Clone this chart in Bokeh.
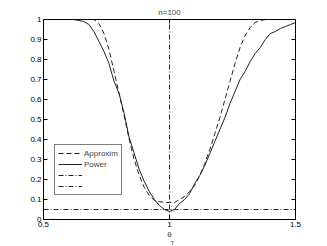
import numpy as np
from bokeh.plotting import figure
from bokeh.models import (LinearAxis, Legend, LegendItem, Title, FixedTicker, Range1d)
from bokeh.embed import file_html
from bokeh.resources import INLINE

title_text = "n=100"
theta = [0.50, 0.52, 0.54, 0.56, 0.58, 0.60, 0.62, 0.64, 0.66, 0.68,
         0.70, 0.72, 0.74, 0.76, 0.78, 0.80, 0.82, 0.84, 0.86, 0.88,
         0.90, 0.92, 0.94, 0.96, 0.98, 1.00, 1.02, 1.04, 1.06, 1.08,
         1.10, 1.12, 1.14, 1.16, 1.18, 1.20, 1.22, 1.24, 1.26, 1.28,
         1.30, 1.32, 1.34, 1.36, 1.38, 1.40, 1.42, 1.44, 1.46, 1.48, 1.50]
power = [1.0, 1.0, 1.0, 1.0, 1.0, 1.0, 1.0, 0.995, 0.99, 0.975,
         0.94, 0.89, 0.84, 0.78, 0.69, 0.63, 0.53, 0.41, 0.33, 0.25,
         0.19, 0.14, 0.10, 0.07, 0.05, 0.04, 0.05, 0.08, 0.10, 0.13,
         0.18, 0.22, 0.27, 0.33, 0.39, 0.45, 0.51, 0.58, 0.64, 0.70,
         0.74, 0.79, 0.83, 0.86, 0.90, 0.93, 0.94, 0.955, 0.965, 0.975, 0.985]
approx = [1.0, 1.0, 1.0, 1.0, 1.0, 1.0, 1.0, 1.0, 1.0, 1.0,
          1.0, 0.98, 0.93, 0.85, 0.74, 0.63, 0.52, 0.40, 0.30, 0.22,
          0.16, 0.12, 0.095, 0.09, 0.085, 0.085, 0.085, 0.10, 0.115, 0.14,
          0.17, 0.22, 0.28, 0.35, 0.43, 0.51, 0.60, 0.69, 0.78, 0.86,
          0.92, 0.96, 0.985, 0.995, 1.0, 1.0, 1.0, 1.0, 1.0, 1.0, 1.0]
theta_T = 1.0
alpha_level = 0.05
x_ticks = [0.5, 1.0, 1.5]
x_tick_labels = {0.5: "0.5", 1.0: "1", 1.5: "1.5"}
y_ticks = [0.0, 0.1, 0.2, 0.3, 0.4, 0.5, 0.6, 0.7, 0.8, 0.9, 1.0]
y_tick_labels = {0.0: "0", 0.1: "0.1", 0.2: "0.2", 0.3: "0.3", 0.4: "0.4", 0.5: "0.5",
                 0.6: "0.6", 0.7: "0.7", 0.8: "0.8", 0.9: "0.9", 1.0: "1"}

FONT = "Liberation Sans"
FS = "8px"

p = figure(frame_width=252, frame_height=200, output_backend="svg", toolbar_location=None,
           x_range=Range1d(0.5, 1.5), y_range=Range1d(0, 1),
           x_axis_location=None, y_axis_location=None,
           min_border_left=43, min_border_right=24, min_border_top=19, min_border_bottom=27)
p.grid.visible = False
p.outline_line_color = "black"
p.background_fill_color = "white"
p.border_fill_color = "white"

p.title.text = title_text
p.title.align = "center"
p.title.text_font = FONT
p.title.text_font_size = FS
p.title.text_font_style = "normal"
p.title.standoff = 6

def make_axis(ticks, labels, show_labels):
    ax = LinearAxis(ticker=FixedTicker(ticks=ticks))
    if show_labels:
        ax.major_label_overrides = labels
    else:
        ax.major_label_overrides = {t: "" for t in ticks}
    ax.major_tick_in = 4
    ax.major_tick_out = 0
    ax.minor_tick_line_color = None
    ax.axis_line_color = "black"
    ax.major_tick_line_color = "black"
    ax.major_label_text_font = FONT
    ax.major_label_text_font_size = FS
    ax.major_label_text_color = "black"
    ax.major_label_standoff = 2
    return ax

xb = make_axis(x_ticks, x_tick_labels, True)
xb.axis_label = "θ"
xb.axis_label_text_font = FONT
xb.axis_label_text_font_size = FS
xb.axis_label_text_font_style = "normal"
xb.axis_label_standoff = 0
p.add_layout(xb, "below")
p.add_layout(make_axis(x_ticks, x_tick_labels, False), "above")
p.add_layout(make_axis(y_ticks, y_tick_labels, True), "left")
p.add_layout(make_axis(y_ticks, y_tick_labels, False), "right")

sub = Title(text="T", align="left", offset=127, standoff=-8,
            text_font=FONT, text_font_size="6px", text_font_style="normal")
p.add_layout(sub, "below")

r_approx = p.line(theta, approx, line_color="#222222", line_width=1, line_dash="5 3")
r_power = p.line(theta, power, line_color="#222222", line_width=1)
r_h = p.line([x_ticks[0], x_ticks[-1]], [alpha_level, alpha_level], line_color="#222222",
             line_width=1, line_dash="5 2 1 2")
r_v = p.line([theta_T, theta_T], [y_ticks[0], y_ticks[-1]], line_color="#222222",
             line_width=1, line_dash="5 2 1 2")

legend = Legend(items=[LegendItem(label="Approxim", renderers=[r_approx]),
                       LegendItem(label="Power", renderers=[r_power]),
                       LegendItem(label=" ", renderers=[r_h]),
                       LegendItem(label=" ", renderers=[r_v])],
                location=(11, 24))
legend.label_text_font = FONT
legend.label_text_font_size = FS
legend.label_height = 10
legend.glyph_height = 10
legend.glyph_width = 24
legend.label_standoff = 2
legend.spacing = 1
legend.padding = 3
legend.margin = 0
legend.border_line_color = "black"
legend.border_line_width = 1
legend.background_fill_alpha = 1
p.add_layout(legend, "center")

open("out.html", "w").write(file_html(p, INLINE))
